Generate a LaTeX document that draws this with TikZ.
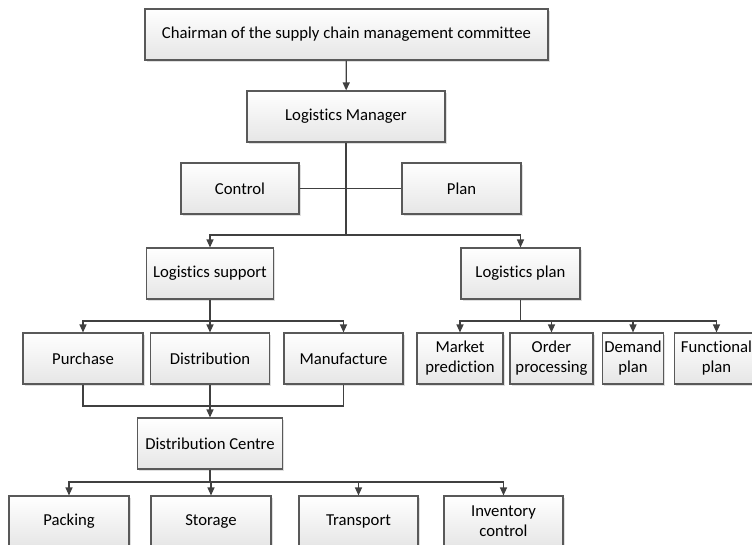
\documentclass[tikz,border=0pt]{standalone}
\usepackage{fontspec}
\setmainfont{Carlito}[Ligatures=NoCommon]
\usetikzlibrary{positioning,shadows,arrows.meta}

\begin{document}
\begin{tikzpicture}[x=1pt,y=-1pt,
    box/.style={draw=black!65,line width=1.1pt,top color=white,bottom color=black!10,
      drop shadow={shadow xshift=1.5pt,shadow yshift=-1.5pt,opacity=0.25},
      minimum height=51pt,inner sep=2pt,align=center,
      font=\fontsize{16.7}{20}\selectfont},
    link/.style={draw=black!75,line width=1.2pt},
    arr/.style={link,-{Triangle[length=8pt,width=7pt]}}]
  \useasboundingbox (0,0) rectangle (752,544);

  % top of the chain
  \node[box,minimum width=403pt] (chair) at (346.5,34.5) {Chairman of the supply chain management committee};
  \node[box,minimum width=198pt] (mgr) at (346,116.5) {Logistics Manager};
  \node[box,minimum width=118pt] (ctrl) at (240,188.5) {Control};
  \node[box,minimum width=119pt] (plan) at (461.5,188.5) {Plan};
  \node[box,minimum width=127pt] (support) at (210,273.5) {Logistics support};
  \node[box,minimum width=119pt] (lplan) at (520.5,273.5) {Logistics plan};

  % logistics support branch
  \node[box,minimum width=120pt] (purchase) at (83,358.5) {Purchase};
  \node[box,minimum width=119pt] (distrib) at (210,358.5) {Distribution};
  \node[box,minimum width=119pt] (manuf) at (343.5,358.5) {Manufacture};
  \node[box,minimum width=145pt] (centre) at (210,443.5) {Distribution Centre};
  \node[box,minimum width=120pt] (packing) at (69,521.5) {Packing};
  \node[box,minimum width=120pt] (storage) at (211,521.5) {Storage};
  \node[box,minimum width=119pt] (transport) at (358.5,521.5) {Transport};
  \node[box,minimum width=119pt] (inventory) at (503.5,521.5) {Inventory\\control};

  % logistics plan branch
  \node[box,minimum width=86pt] (market) at (460,358.5) {Market\\prediction};
  \node[box,minimum width=83pt] (order) at (551.5,358.5) {Order\\processing};
  \node[box,minimum width=60pt] (demand) at (633,358.5) {Demand\\plan};
  \node[box,minimum width=84pt] (func) at (716.5,358.5) {Functional\\plan};

  % connectors
  \draw[arr] (chair) -- (mgr);
  \coordinate (j1) at (346,235);
  \draw[link] (mgr) -- (j1);
  \draw[link] (ctrl) -- (plan);
  \draw[arr] (j1) -| (support.north);
  \draw[arr] (j1) -| (lplan.north);

  \coordinate (j2) at (210,321);
  \draw[link] (support) -- (j2);
  \foreach \n in {purchase,distrib,manuf}
    \draw[arr] (j2) -| (\n.north);

  \coordinate (j3) at (210,406);
  \draw[link] (purchase.south) |- (j3) -| (manuf.south);
  \draw[arr] (distrib) -- (centre);

  \coordinate (j4) at (210,482);
  \draw[link] (centre) -- (j4);
  \foreach \n in {packing,storage,transport,inventory}
    \draw[arr] (j4) -| (\n.north);

  \coordinate (j5) at (520.5,321);
  \draw[link] (lplan) -- (j5);
  \foreach \n in {market,order,demand,func}
    \draw[arr] (j5) -| (\n.north);
\end{tikzpicture}
\end{document}
